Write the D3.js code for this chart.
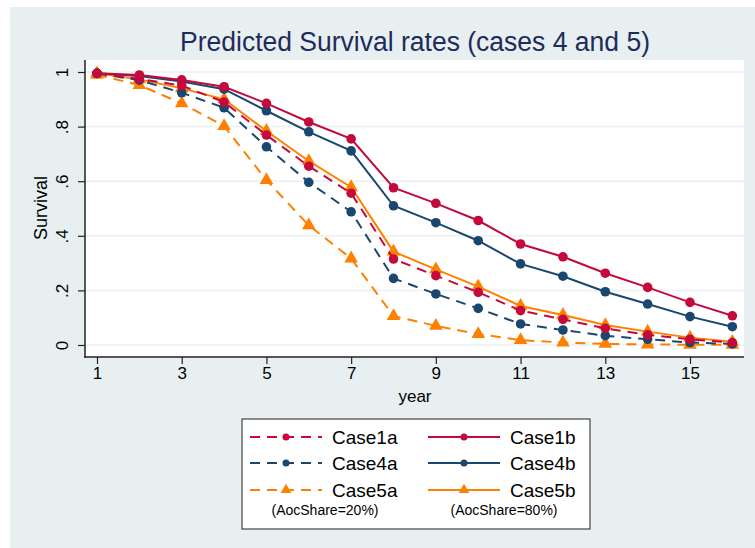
<!DOCTYPE html>
<html>
<head>
<meta charset="utf-8">
<script src="https://cdn.jsdelivr.net/npm/d3@7"></script>
<style>
  body { margin: 0; background: #ffffff; }
  text { font-family: "Liberation Sans", Arial, sans-serif; }
</style>
</head>
<body>
<svg id="chart" width="755" height="548"></svg>
<script>
// Data
var years = [1, 2, 3, 4, 5, 6, 7, 8, 9, 10, 11, 12, 13, 14, 15, 16];
var xTicks = [1, 3, 5, 7, 9, 11, 13, 15];
var yTicks = [0, 0.2, 0.4, 0.6, 0.8, 1];
var yTickLabels = ["0", ".2", ".4", ".6", ".8", "1"];

var case1a = [0.995, 0.975, 0.950, 0.890, 0.769, 0.655, 0.556, 0.315, 0.254, 0.193, 0.126, 0.094, 0.061, 0.037, 0.021, 0.009];
var case1b = [0.995, 0.989, 0.971, 0.946, 0.885, 0.817, 0.755, 0.576, 0.519, 0.456, 0.370, 0.323, 0.263, 0.211, 0.156, 0.107];
var case4a = [0.995, 0.970, 0.924, 0.869, 0.726, 0.596, 0.488, 0.244, 0.187, 0.134, 0.077, 0.055, 0.034, 0.021, 0.009, 0.004];
var case4b = [0.995, 0.985, 0.965, 0.937, 0.858, 0.781, 0.711, 0.510, 0.448, 0.382, 0.297, 0.252, 0.195, 0.150, 0.104, 0.067];
var case5a = [0.990, 0.952, 0.885, 0.802, 0.604, 0.438, 0.317, 0.106, 0.070, 0.040, 0.018, 0.009, 0.004, 0.002, 0.001, 0.001];
var case5b = [0.995, 0.973, 0.940, 0.900, 0.784, 0.674, 0.578, 0.342, 0.277, 0.214, 0.143, 0.110, 0.073, 0.049, 0.027, 0.012];

var seriesNames = ["Case1a", "Case1b", "Case4a", "Case4b", "Case5a", "Case5b"];
var seriesValues = [case1a, case1b, case4a, case4b, case5a, case5b];
var legendNotes = ["(AocShare=20%)", "(AocShare=80%)"];

var style = {
    red: "#c4093c",
    navy: "#1a476f",
    orange: "#ff8000",
    bg: "#e8eff1",
    grid: "#eaf0f2",
    axis: "#222222"
};
var colors = [style.red, style.red, style.navy, style.navy, style.orange, style.orange];
var dashed = [true, false, true, false, true, false];
var markers = ["circle", "circle", "circle", "circle", "triangle", "triangle"];

var svg = d3.select("#chart");

// outer background
svg.append("rect").attr("x", 10).attr("y", 7).attr("width", 745).attr("height", 541).attr("fill", style.bg);

var plot = { left: 85, top: 60, right: 744, bottom: 357 };

var x = d3.scaleLinear().domain([1, 15]).range([97, 690]);
var y = d3.scaleLinear().domain([0, 1]).range([345, 72]);

svg.append("rect")
    .attr("x", plot.left).attr("y", plot.top)
    .attr("width", plot.right - plot.left).attr("height", plot.bottom - plot.top)
    .attr("fill", "#ffffff");

// gridlines
svg.append("g").selectAll("line").data(yTicks).enter().append("line")
    .attr("x1", plot.left).attr("x2", plot.right)
    .attr("y1", function(d) { return y(d); }).attr("y2", function(d) { return y(d); })
    .attr("stroke", style.grid).attr("stroke-width", 1.5);

// y axis
var yAxis = d3.axisLeft(y).tickValues(yTicks).tickSize(7).tickPadding(3)
    .tickFormat(function(d, i) { return yTickLabels[i]; });
var yG = svg.append("g").attr("transform", "translate(" + plot.left + ",0)").call(yAxis);
yG.select(".domain").remove();
yG.selectAll(".tick line").attr("stroke", style.axis).attr("stroke-width", 1.2);
yG.selectAll(".tick text")
    .attr("x", null).attr("dy", null)
    .attr("transform", "translate(-17,0) rotate(-90)")
    .attr("text-anchor", "middle")
    .attr("font-size", 17).attr("fill", "#000")
    .style("font-family", "Liberation Sans, Arial, sans-serif");
svg.append("line").attr("x1", plot.left).attr("x2", plot.left)
    .attr("y1", plot.top).attr("y2", plot.bottom + 0.75)
    .attr("stroke", style.axis).attr("stroke-width", 1.5);

// x axis
var xAxis = d3.axisBottom(x).tickValues(xTicks).tickSize(7).tickPadding(3).tickFormat(d3.format("d"));
var xG = svg.append("g").attr("transform", "translate(0," + plot.bottom + ")").call(xAxis);
xG.select(".domain").remove();
xG.selectAll(".tick line").attr("stroke", style.axis).attr("stroke-width", 1.2);
xG.selectAll(".tick text").attr("font-size", 17).attr("fill", "#000")
    .style("font-family", "Liberation Sans, Arial, sans-serif");
svg.append("line").attr("x1", plot.left - 0.75).attr("x2", plot.right)
    .attr("y1", plot.bottom).attr("y2", plot.bottom)
    .attr("stroke", style.axis).attr("stroke-width", 1.5);

// axis titles
svg.append("text").attr("x", 415).attr("y", 402).attr("text-anchor", "middle")
    .attr("font-size", 17).text("year");
svg.append("text").attr("transform", "translate(47,208) rotate(-90)").attr("text-anchor", "middle")
    .attr("font-size", 18).text("Survival");

// title
svg.append("text").attr("x", 415).attr("y", 51).attr("text-anchor", "middle")
    .attr("font-size", 27).attr("fill", "#1e2c5c")
    .attr("textLength", 470).attr("lengthAdjust", "spacingAndGlyphs")
    .text("Predicted Survival rates (cases 4 and 5)");

// series
var line = d3.line().x(function(d, i) { return x(years[i]); }).y(function(d) { return y(d); });
var tri = d3.symbol().type(d3.symbolTriangle).size(80);

function drawMarker(g, type, cx, cy, color, small) {
    if (type == "circle") {
        g.append("circle").attr("cx", cx).attr("cy", cy).attr("r", small ? 3.5 : 4.8).attr("fill", color);
    } else {
        g.append("path").attr("d", d3.symbol().type(d3.symbolTriangle).size(small ? 50 : 80)())
            .attr("transform", "translate(" + cx + "," + cy + ")").attr("fill", color);
    }
}

var order = [5, 4, 3, 2, 1, 0];
order.forEach(function(k) {
    var g = svg.append("g");
    g.append("path").datum(seriesValues[k]).attr("d", line)
        .attr("fill", "none").attr("stroke", colors[k]).attr("stroke-width", 2)
        .attr("stroke-dasharray", dashed[k] ? "10,7" : null);
    seriesValues[k].forEach(function(v, i) {
        drawMarker(g, markers[k], x(years[i]), y(v), colors[k], false);
    });
});

// legend
var legend = svg.append("g");
legend.append("rect").attr("x", 242).attr("y", 419).attr("width", 348).attr("height", 110)
    .attr("fill", "#ffffff").attr("stroke", "#444").attr("stroke-width", 1.2);

var colKeyX = [250, 428];
var colTextX = [332, 510];
var rowY = [437, 463, 490];
seriesNames.forEach(function(name, k) {
    var col = k % 2, row = Math.floor(k / 2);
    var ly = rowY[row];
    legend.append("line").attr("x1", colKeyX[col]).attr("x2", colKeyX[col] + 72)
        .attr("y1", ly).attr("y2", ly)
        .attr("stroke", colors[k]).attr("stroke-width", 2)
        .attr("stroke-dasharray", dashed[k] ? "10,7" : null);
    drawMarker(legend, markers[k], colKeyX[col] + 36, ly, colors[k], true);
    legend.append("text").attr("x", colTextX[col]).attr("y", ly + 7)
        .attr("font-size", 19).text(name);
});
legendNotes.forEach(function(note, i) {
    legend.append("text").attr("x", [325, 504][i]).attr("y", 515)
        .attr("text-anchor", "middle").attr("font-size", 14).text(note);
});
</script>
</body>
</html>
